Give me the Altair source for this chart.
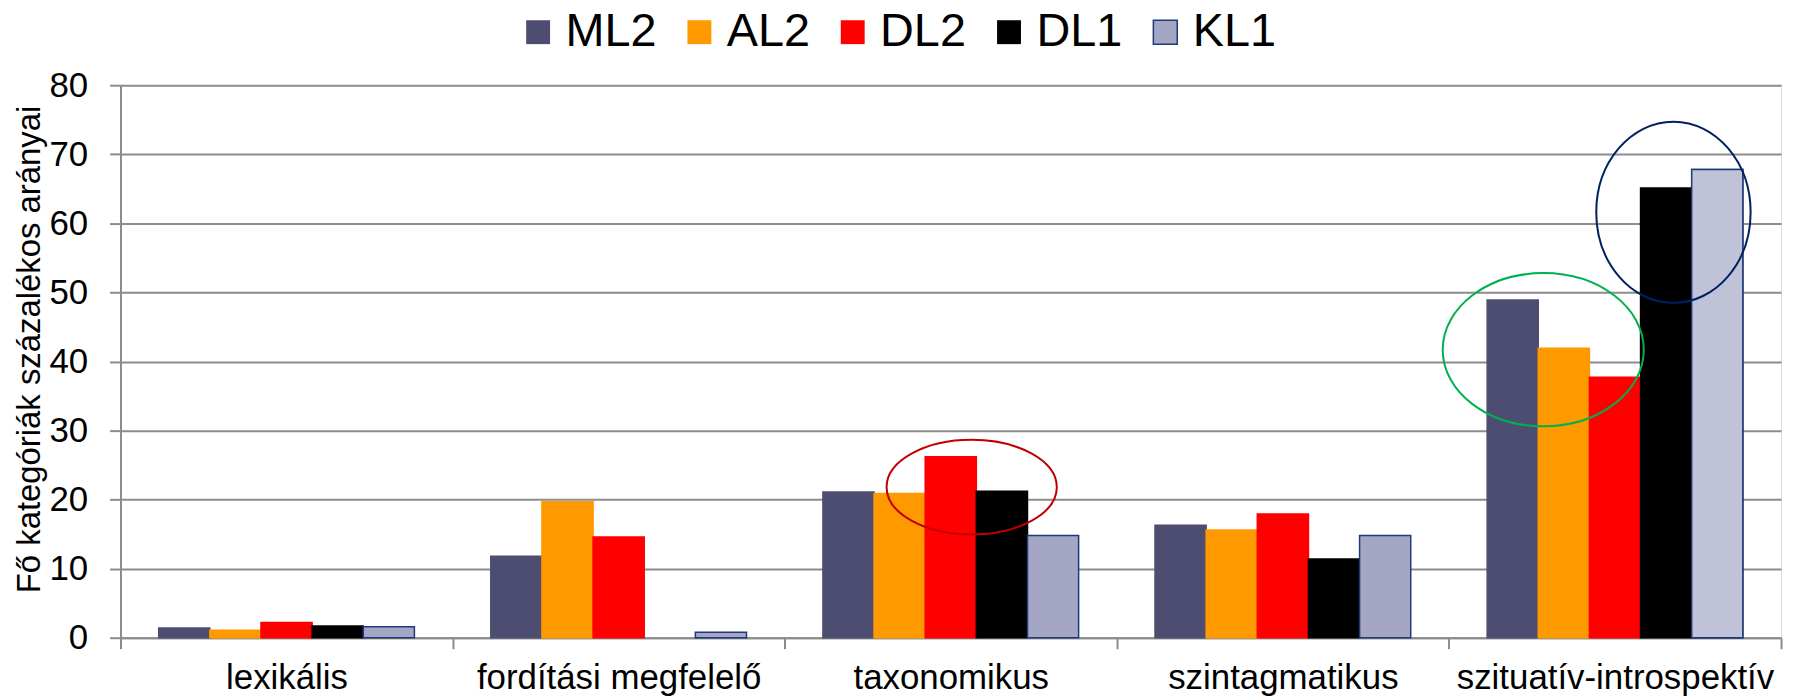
import altair as alt
import pandas as pd

categories = ["lexikális", "fordítási megfelelő", "taxonomikus", "szintagmatikus", "szituatív-introspektív"]
series = ["ML2", "AL2", "DL2", "DL1", "KL1"]
ML2 = [1.4, 11.8, 21.1, 16.3, 48.9]
AL2 = [1.1, 19.7, 20.9, 15.6, 41.9]
DL2 = [2.2, 14.6, 26.2, 17.9, 37.7]
DL1 = [1.7, 0.0, 21.2, 11.4, 65.1]
KL1 = [1.6, 0.8, 14.8, 14.8, 67.8]
values = {"ML2": ML2, "AL2": AL2, "DL2": DL2, "DL1": DL1, "KL1": KL1}

fill_colors = ["#4d4d72", "#ff9900", "#ff0000", "#000000", "#a4a6c4"]
stroke_colors = ["#4d4d72", "#ff9900", "#ff0000", "#000000", "#1f3a78"]
highlight_cat = "szituatív-introspektív"
highlight_series = "KL1"
highlight_fill = "#c0c2d7"

# annotation ellipses: category, position within the category band, centre value
ell_cat = ["taxonomikus", "szituatív-introspektív", "szituatív-introspektív"]
ell_band = [0.563, 0.284, 0.676]
ell_value = [21.8, 41.7, 61.6]
ell_color = ["#c00000", "#00b050", "#002060"]
ell_shape = [
    "M -1 0 A 1 0.556 0 1 0 1 0 A 1 0.556 0 1 0 -1 0 Z",
    "M -1 0 A 1 0.762 0 1 0 1 0 A 1 0.762 0 1 0 -1 0 Z",
    "M -0.852 0 A 0.852 1 0 1 0 0.852 0 A 0.852 1 0 1 0 -0.852 0 Z",
]
ell_size = [29241, 40804, 33124]

rows = []
for s in series:
    for c, v in zip(categories, values[s]):
        rows.append({"cat": c, "series": s, "value": v})
df = pd.DataFrame(rows)

ann = pd.DataFrame({
    "cat": ell_cat, "value": ell_value,
    "col": ell_color, "shape": ell_shape, "size": ell_size, "idx": list(range(3)),
})

FONT = "Liberation Sans"

x_enc = alt.X(
    "cat:N", sort=categories, title=None,
    scale=alt.Scale(paddingInner=0, paddingOuter=0),
    axis=alt.Axis(
        labelFontSize=35, labelColor="black", labelFont=FONT, labelAngle=0,
        labelPadding=12, labelLimit=0, tickBand="extent", tickSize=11, tickColor="#8c8c8c",
        tickWidth=2, domainColor="#8c8c8c", domainWidth=2, grid=False,
    ),
)
xoff_enc = alt.XOffset("series:N", sort=series,
                       scale=alt.Scale(paddingInner=0, paddingOuter=0.747))
y_enc = alt.Y(
    "value:Q", title="Fő kategóriák százalékos arányai",
    scale=alt.Scale(domain=[0, 80], nice=False),
    axis=alt.Axis(
        values=[0, 10, 20, 30, 40, 50, 60, 70, 80],
        labelFontSize=35, labelColor="black", labelFont=FONT, labelPadding=22,
        tickSize=11, tickColor="#8c8c8c", tickWidth=2,
        domainColor="#8c8c8c", domainWidth=2,
        grid=True, gridColor="#8c8c8c", gridWidth=2,
        titleFont=FONT, titleFontSize=33, titleFontWeight="normal", titleColor="black",
        titleX=-91, titleY=265, titleAlign="center", titleBaseline="middle", titleAngle=270,
    ),
)

legend = alt.Legend(
    title=None, orient="none", direction="horizontal", legendX=396, legendY=-77,
    labelFontSize=47, labelFont=FONT, labelColor="black", labelLimit=0,
    symbolType="square", symbolSize=576, symbolStrokeWidth=1.5,
    symbolStrokeColor=alt.ExprRef(expr="datum.value === 'KL1' ? '#1f3a78' : 'transparent'"),
    labelOffset=4, columnPadding=19,
)

base = alt.Chart(df).transform_filter(alt.datum.value > 0)

bars = base.mark_bar(strokeWidth=1.5).encode(
    x=x_enc,
    y=y_enc,
    xOffset=xoff_enc,
    fill=alt.Fill("series:N", sort=series,
                  scale=alt.Scale(domain=series, range=fill_colors), legend=legend),
    stroke=alt.Stroke("series:N", sort=series,
                      scale=alt.Scale(domain=series, range=stroke_colors), legend=None),
)

highlight = base.transform_filter(
    (alt.datum.cat == highlight_cat) & (alt.datum.series == highlight_series)
).mark_bar(strokeWidth=1.5, fill=highlight_fill, stroke=stroke_colors[-1]).encode(
    x=alt.X("cat:N", sort=categories),
    y=alt.Y("value:Q"),
    xOffset=alt.XOffset("series:N", sort=series),
)

layers = [bars, highlight]
for i in range(len(ell_cat)):
    layers.append(
        alt.Chart(ann).transform_filter(alt.datum.idx == i)
        .mark_point(filled=False, strokeWidth=2, opacity=1)
        .encode(
            x=alt.X("cat:N", sort=categories, bandPosition=ell_band[i]),
            y=alt.Y("value:Q"),
            shape=alt.Shape("shape:N", scale=None, legend=None),
            size=alt.Size("size:Q", scale=None, legend=None),
            stroke=alt.Stroke("col:N", scale=None, legend=None),
        )
    )

chart = alt.layer(*layers).resolve_scale(stroke="independent").properties(
    width=1668, height=555, autosize="none",
    padding={"left": 113, "top": 76, "right": 10, "bottom": 58},
).configure_view(stroke=None).configure(font=FONT)

chart.save("out.html", embed_options={"renderer": "svg", "actions": False})
